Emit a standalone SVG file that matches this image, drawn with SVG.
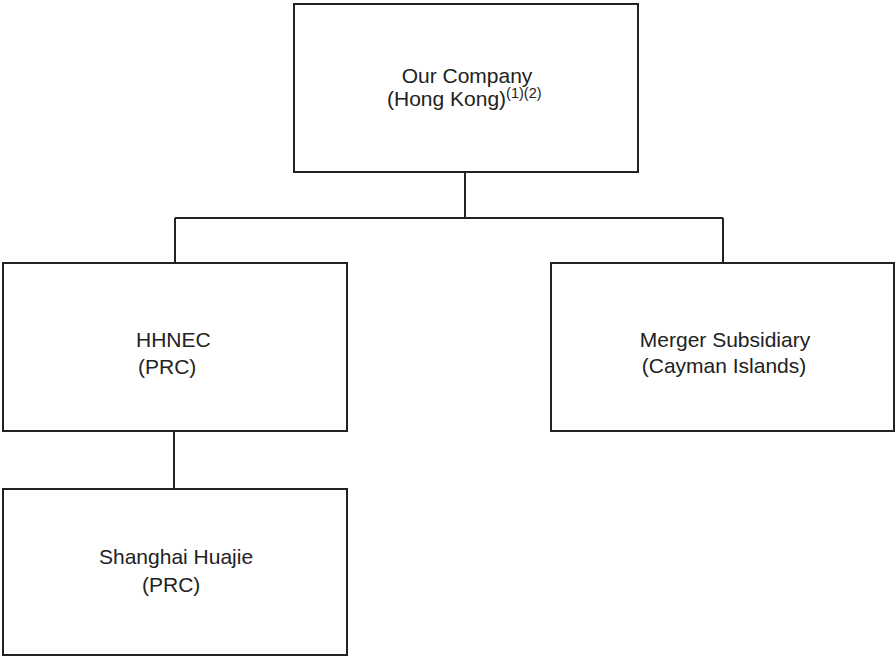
<svg xmlns="http://www.w3.org/2000/svg" width="895" height="657" viewBox="0 0 895 657">
<style>
.box{fill:#fff;stroke:#222;stroke-width:2}
.ln{fill:none;stroke:#222;stroke-width:2}
text{font-family:"Liberation Sans",Arial,sans-serif;font-size:21px;fill:#222}
.sup{font-size:14.5px}
</style>
<rect width="895" height="657" fill="#fff"/>
<g id="connectors">
<path class="ln" d="M465,172 V218 M175,218 H723 M175,218 V263 M723,218 V263 M174,431 V489"/>
</g>
<g id="our-company">
<rect class="box" x="294" y="4" width="344" height="168"/>
<text x="467" y="83" text-anchor="middle">Our Company</text>
<text x="387" y="106">(Hong Kong)<tspan class="sup" dy="-8">(1)(2)</tspan></text>
</g>
<g id="hhnec">
<rect class="box" x="3" y="263" width="344" height="168"/>
<text x="136" y="347">HHNEC</text>
<text x="138" y="374">(PRC)</text>
</g>
<g id="merger-subsidiary">
<rect class="box" x="551" y="263" width="343" height="168"/>
<text x="725" y="347" text-anchor="middle">Merger Subsidiary</text>
<text x="724" y="373" text-anchor="middle">(Cayman Islands)</text>
</g>
<g id="shanghai-huajie">
<rect class="box" x="3" y="489" width="344" height="166"/>
<text x="99" y="564">Shanghai Huajie</text>
<text x="142" y="592">(PRC)</text>
</g>
</svg>
